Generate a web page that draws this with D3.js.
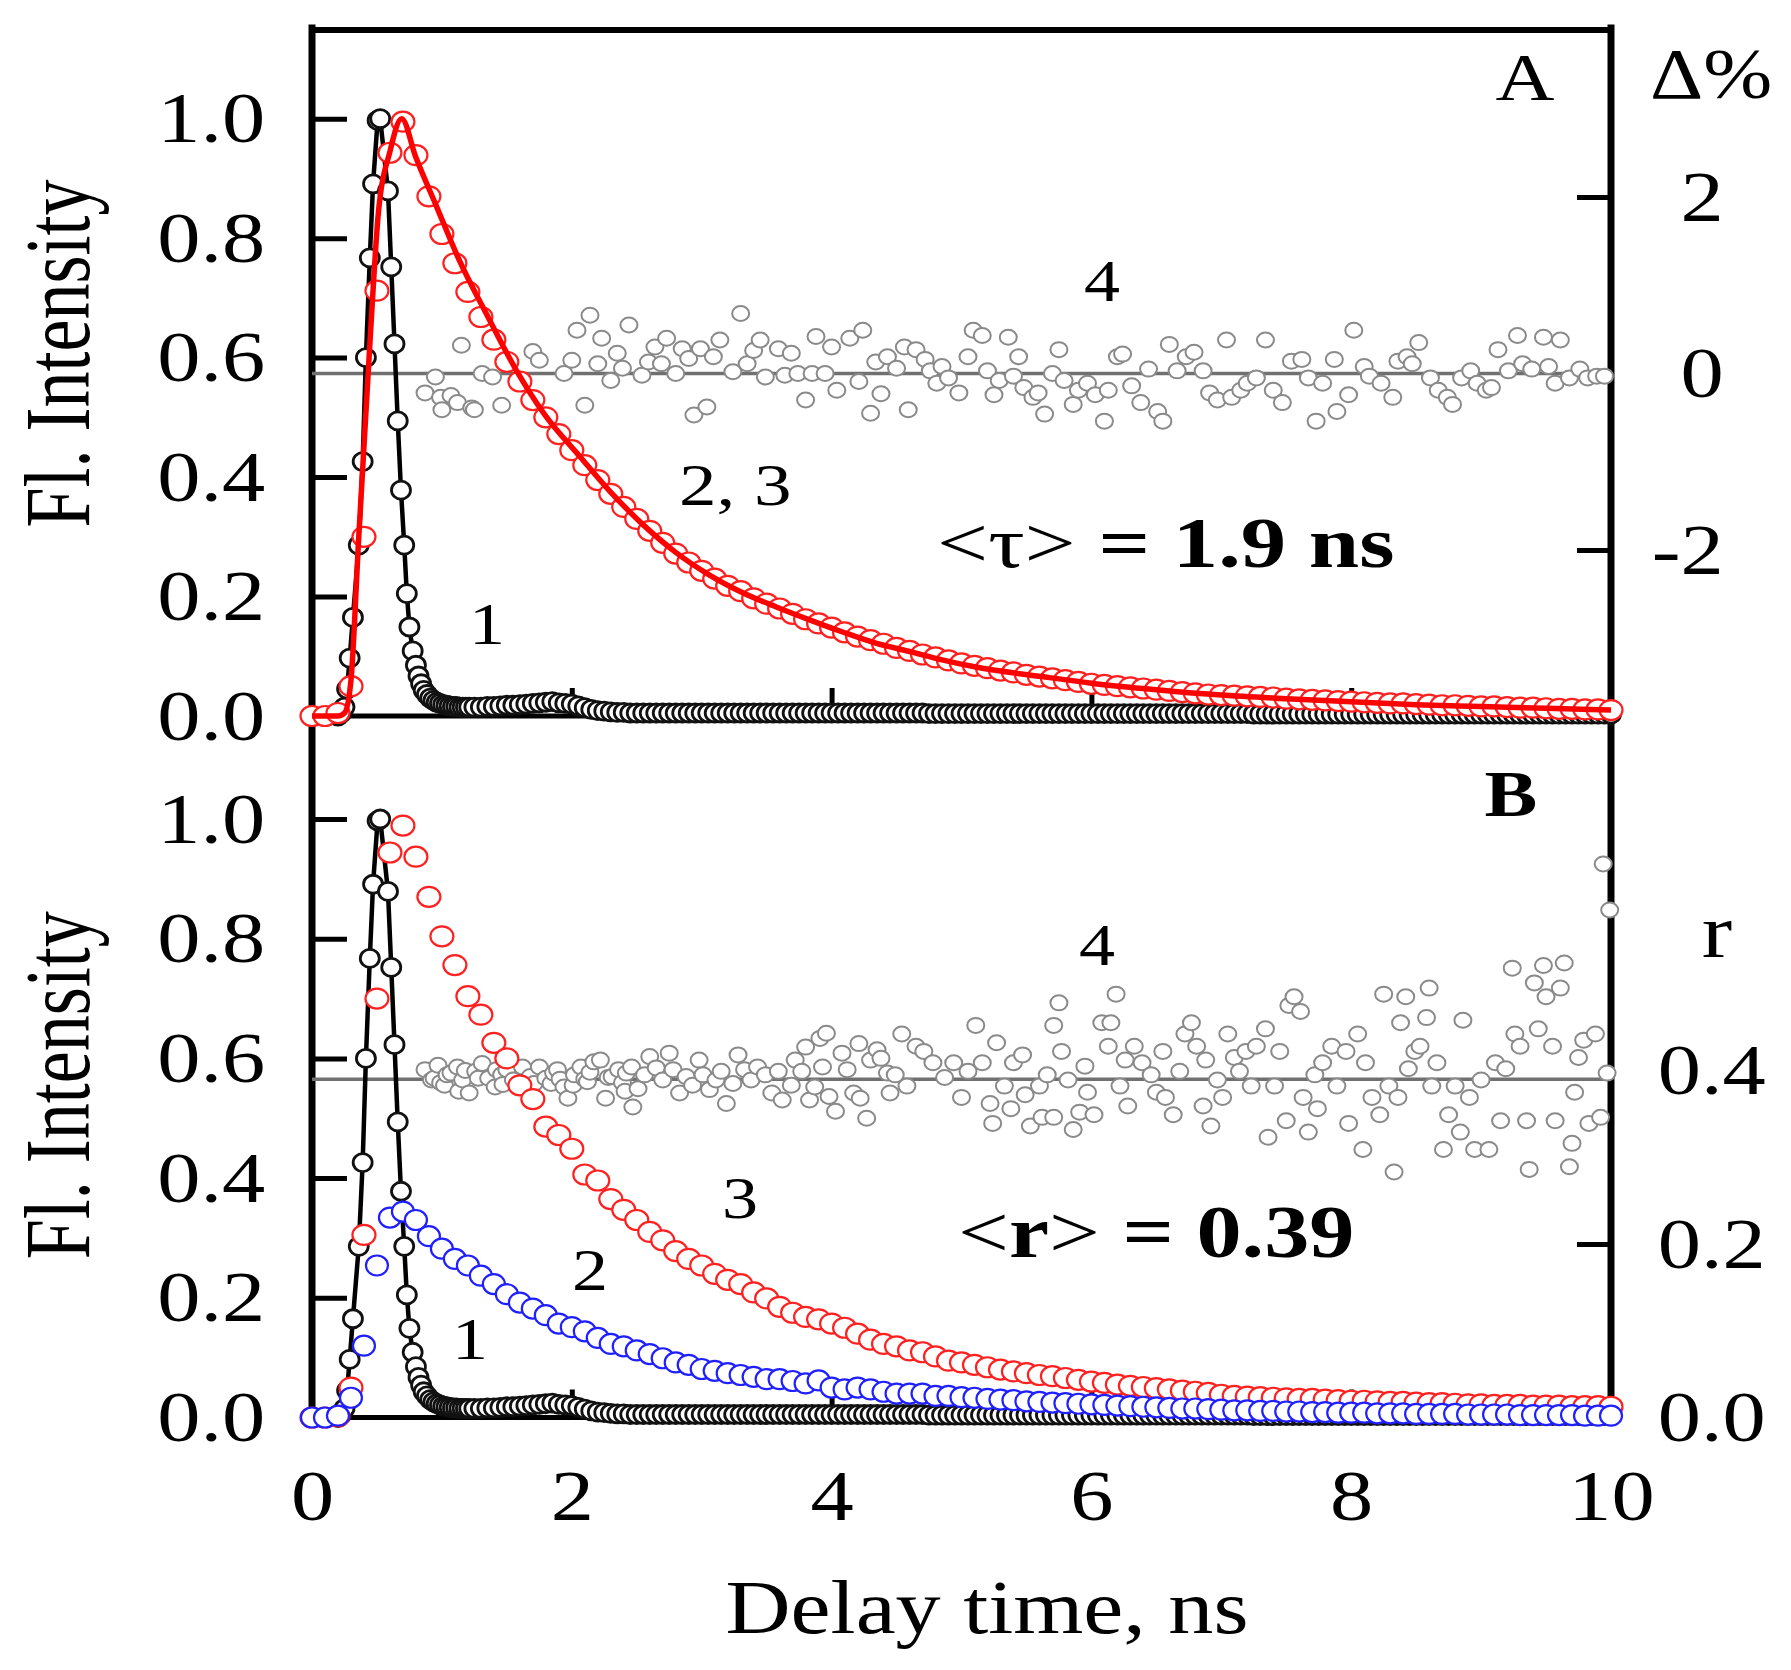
<!DOCTYPE html>
<meta charset="utf-8" />
<script src="https://d3js.org/d3.v7.min.js"></script>
<style>
  body { margin: 0; background: #fff; }
  text { font-family: "Liberation Serif", "Times New Roman", serif; fill: #000; }
</style>
<div id="chart"></div>
<script>
  // tick labels
  const leftTicks = [0, 0.2, 0.4, 0.6, 0.8, 1.0];
  const timeTicks = [0, 2, 4, 6, 8, 10];
  const deltaTicks = [-2, 0, 2];
  const rTicks = [0, 0.2, 0.4];

  // red / blue decays are sampled every 0.1 ns from 0 to 10 ns
  const decayTime = d3.range(101).map(i => i / 10);

  // panel A: curve 2 (data)
  const decayA = [
    0.000, 0.000, 0.005, 0.050, 0.300, 0.712, 0.943, 0.995, 0.939, 0.870,
    0.807, 0.758, 0.710, 0.668, 0.630, 0.593, 0.560, 0.529, 0.500, 0.472,
    0.445, 0.420, 0.395, 0.372, 0.350, 0.330, 0.310, 0.290, 0.272, 0.257,
    0.243, 0.230, 0.218, 0.209, 0.197, 0.188, 0.180, 0.171, 0.162, 0.155,
    0.148, 0.140, 0.133, 0.127, 0.121, 0.114, 0.109, 0.103, 0.098, 0.093,
    0.088, 0.084, 0.080, 0.076, 0.073, 0.069, 0.066, 0.063, 0.060, 0.057,
    0.054, 0.052, 0.050, 0.048, 0.046, 0.044, 0.042, 0.040, 0.038, 0.036,
    0.035, 0.034, 0.033, 0.032, 0.031, 0.029, 0.028, 0.027, 0.026, 0.025,
    0.024, 0.023, 0.022, 0.021, 0.021, 0.020, 0.019, 0.018, 0.018, 0.017,
    0.016, 0.016, 0.015, 0.014, 0.014, 0.013, 0.012, 0.012, 0.011, 0.011,
    0.010
  ];

  // panel A: curve 3 (fit)
  const fitTime = [0, 0.2, 0.25, 0.3, 0.36, 0.45, 0.51, 0.6, 0.69, 0.8, 0.955, 1.13, 1.35, 1.57, 1.79,
    2.06, 2.29, 2.55, 2.8, 3.06, 3.32, 3.57, 3.83, 4.08, 4.34, 4.6, 4.85, 5.11, 5.62,
    6.0, 6.5, 7.0, 7.5, 8.0, 8.5, 9.0, 9.5, 10.0];
  const fitValue = [0, 0, 0.005, 0.06, 0.30, 0.64, 0.84, 0.945, 1.0, 0.935, 0.855, 0.765, 0.67, 0.58, 0.505,
    0.435, 0.377, 0.320, 0.274, 0.236, 0.206, 0.183, 0.161, 0.141, 0.122, 0.108, 0.094, 0.082, 0.066,
    0.055, 0.044, 0.035, 0.029, 0.024, 0.019, 0.016, 0.013, 0.010];

  // panel B: curve 3 (parallel, red) and curve 2 (perpendicular, blue)
  const decayPar = [
    0.000, 0.000, 0.002, 0.050, 0.305, 0.700, 0.944, 0.989, 0.937, 0.870,
    0.804, 0.756, 0.704, 0.673, 0.626, 0.600, 0.555, 0.532, 0.486, 0.472,
    0.449, 0.406, 0.396, 0.365, 0.347, 0.330, 0.310, 0.296, 0.278, 0.265,
    0.254, 0.240, 0.230, 0.223, 0.209, 0.199, 0.185, 0.175, 0.168, 0.164,
    0.157, 0.150, 0.140, 0.130, 0.123, 0.119, 0.112, 0.109, 0.102, 0.095,
    0.092, 0.088, 0.084, 0.080, 0.077, 0.074, 0.071, 0.069, 0.066, 0.063,
    0.060, 0.058, 0.055, 0.053, 0.051, 0.049, 0.047, 0.045, 0.043, 0.041,
    0.038, 0.036, 0.035, 0.034, 0.033, 0.032, 0.031, 0.031, 0.030, 0.029,
    0.028, 0.028, 0.027, 0.026, 0.026, 0.025, 0.024, 0.024, 0.023, 0.022,
    0.022, 0.021, 0.021, 0.021, 0.020, 0.020, 0.020, 0.019, 0.019, 0.019,
    0.018
  ];
  const decayPerp = [
    0.000, 0.000, 0.003, 0.033, 0.120, 0.254, 0.334, 0.344, 0.330, 0.303,
    0.282, 0.265, 0.254, 0.237, 0.223, 0.206, 0.192, 0.182, 0.171, 0.157,
    0.151, 0.144, 0.133, 0.123, 0.119, 0.112, 0.106, 0.099, 0.092, 0.088,
    0.081, 0.078, 0.074, 0.071, 0.068, 0.064, 0.064, 0.061, 0.057, 0.062,
    0.050, 0.047, 0.050, 0.047, 0.043, 0.040, 0.040, 0.040, 0.036, 0.036,
    0.034, 0.033, 0.031, 0.030, 0.029, 0.027, 0.026, 0.025, 0.024, 0.023,
    0.022, 0.021, 0.020, 0.019, 0.018, 0.017, 0.016, 0.015, 0.015, 0.014,
    0.013, 0.012, 0.012, 0.011, 0.011, 0.010, 0.010, 0.009, 0.009, 0.008,
    0.008, 0.008, 0.007, 0.007, 0.007, 0.006, 0.006, 0.006, 0.006, 0.005,
    0.005, 0.005, 0.005, 0.004, 0.004, 0.004, 0.004, 0.004, 0.003, 0.003,
    0.003
  ];

  // curve 1: instrument response, fine channels around the peak
  const irfTime = [0.20, 0.225, 0.25, 0.27, 0.29, 0.315, 0.36, 0.39, 0.415, 0.445,
    0.47, 0.505, 0.525, 0.585, 0.61, 0.635, 0.66, 0.685, 0.71, 0.73,
    0.75, 0.775, 0.80, 0.82, 0.84, 0.86, 0.885, 0.91, 0.935, 0.96,
    0.985, 1.01, 1.035, 1.06, 1.085, 1.11, 1.135, 1.16, 1.185, 1.21];
  const irfValue = [0.000, 0.005, 0.015, 0.045, 0.097, 0.165, 0.286, 0.426, 0.600, 0.767,
    0.891, 0.997, 1.000, 0.879, 0.752, 0.623, 0.494, 0.378, 0.286, 0.205,
    0.149, 0.109, 0.085, 0.067, 0.054, 0.043, 0.036, 0.030, 0.026, 0.023,
    0.021, 0.019, 0.018, 0.017, 0.016, 0.016, 0.015, 0.015, 0.015, 0.015];
  // its tail, every 0.05 ns from 1.25 to 10 ns (176 channels)
  const irfTailTime = d3.range(176).map(i => 1.25 + i * 0.05);
  const irfTailValue = [
    0.015, 0.015, 0.016, 0.016, 0.017, 0.018, 0.018, 0.019, 0.020, 0.021,
    0.022, 0.023, 0.024, 0.022, 0.021, 0.020, 0.017, 0.014, 0.011, 0.009,
    0.008, 0.007, 0.006, 0.006, 0.005, 0.005, 0.005, 0.005, 0.005, 0.005,
    0.005, 0.005, 0.005, 0.005, 0.005, 0.005, 0.005, 0.005, 0.005, 0.005,
    0.005, 0.005, 0.005, 0.005, 0.005, 0.005, 0.005, 0.005, 0.005, 0.005,
    0.005, 0.005, 0.005, 0.005, 0.005, 0.005, 0.005, 0.005, 0.005, 0.005,
    0.005, 0.005, 0.005, 0.005, 0.005, 0.005, 0.005, 0.005, 0.005, 0.005,
    0.004, 0.004, 0.004, 0.004, 0.004, 0.004, 0.004, 0.004, 0.004, 0.004,
    0.004, 0.004, 0.004, 0.004, 0.004, 0.004, 0.004, 0.004, 0.004, 0.004,
    0.004, 0.004, 0.004, 0.004, 0.004, 0.004, 0.004, 0.004, 0.004, 0.004,
    0.004, 0.004, 0.004, 0.004, 0.004, 0.004, 0.004, 0.004, 0.004, 0.004,
    0.004, 0.004, 0.004, 0.004, 0.004, 0.004, 0.004, 0.004, 0.004, 0.004,
    0.003, 0.003, 0.003, 0.003, 0.003, 0.003, 0.003, 0.003, 0.003, 0.003,
    0.003, 0.003, 0.003, 0.003, 0.003, 0.003, 0.003, 0.003, 0.003, 0.003,
    0.003, 0.003, 0.003, 0.003, 0.003, 0.003, 0.003, 0.003, 0.003, 0.003,
    0.003, 0.003, 0.003, 0.003, 0.003, 0.003, 0.003, 0.003, 0.003, 0.003,
    0.003, 0.003, 0.003, 0.003, 0.003, 0.003, 0.003, 0.003, 0.003, 0.003,
    0.003, 0.003, 0.003, 0.003, 0.003, 0.003
  ];

  // curve 4 in A: residuals, delta %
  const residTime = [
    0.87, 0.95, 0.99, 1.00, 1.07, 1.12, 1.15, 1.23, 1.25, 1.31,
    1.39, 1.46, 1.70, 1.75, 1.94, 2.00, 2.04, 2.10, 2.14, 2.20,
    2.23, 2.30, 2.35, 2.39, 2.44, 2.54, 2.59, 2.64, 2.69, 2.73,
    2.80, 2.85, 2.90, 2.94, 2.99, 3.04, 3.09, 3.14, 3.24, 3.30,
    3.35, 3.40, 3.45, 3.49, 3.59, 3.64, 3.69, 3.74, 3.80, 3.85,
    3.88, 3.95, 4.00, 4.04, 4.14, 4.21, 4.24, 4.30, 4.34, 4.38,
    4.43, 4.50, 4.56, 4.59, 4.65, 4.72, 4.76, 4.81, 4.85, 4.90,
    4.98, 5.05, 5.09, 5.16, 5.20, 5.25, 5.29, 5.36, 5.40, 5.44,
    5.48, 5.55, 5.59, 5.64, 5.70, 5.75, 5.79, 5.86, 5.90, 5.97,
    6.03, 6.10, 6.13, 6.20, 6.24, 6.31, 6.38, 6.44, 6.51, 6.55,
    6.60, 6.66, 6.73, 6.79, 6.86, 6.91, 6.97, 7.04, 7.08, 7.15,
    7.20, 7.27, 7.34, 7.40, 7.47, 7.54, 7.62, 7.67, 7.73, 7.78,
    7.87, 7.89, 7.98, 8.02, 8.10, 8.14, 8.23, 8.32, 8.36, 8.43,
    8.47, 8.52, 8.61, 8.67, 8.74, 8.78, 8.85, 8.92, 8.97, 9.04,
    9.08, 9.13, 9.21, 9.28, 9.32, 9.39, 9.48, 9.52, 9.57, 9.61,
    9.68, 9.76, 9.82, 9.89, 9.95
  ];
  const residValue = [
    -0.22, -0.04, -0.27, -0.41, -0.25, -0.33, 0.32, -0.39, -0.41, 0.00,
    -0.04, -0.36, 0.25, 0.15, 0.00, 0.15, 0.49, -0.36, 0.66, 0.11,
    0.40, -0.08, 0.23, 0.06, 0.55, -0.02, 0.13, 0.30, 0.11, 0.40,
    0.00, 0.28, 0.17, -0.47, 0.28, -0.38, 0.19, 0.38, 0.02, 0.68,
    0.11, 0.26, 0.38, -0.04, 0.28, -0.02, 0.23, 0.00, -0.30, 0.00,
    0.42, 0.00, 0.30, -0.19, 0.40, -0.09, 0.49, -0.45, 0.13, -0.23,
    0.19, 0.06, 0.30, -0.41, 0.27, 0.16, 0.03, -0.11, 0.08, -0.05,
    -0.22, 0.19, 0.49, 0.43, 0.03, -0.24, -0.08, 0.41, -0.03, 0.19,
    -0.16, -0.27, -0.22, -0.46, 0.00, 0.27, -0.08, -0.35, -0.19, -0.11,
    -0.24, -0.54, -0.19, 0.19, 0.22, -0.14, -0.33, 0.05, -0.43, -0.54,
    0.33, 0.03, 0.19, 0.24, 0.03, -0.22, -0.30, 0.38, -0.27, -0.19,
    -0.11, -0.05, 0.38, -0.19, -0.33, 0.14, 0.16, -0.05, -0.54, -0.11,
    0.16, -0.43, -0.24, 0.49, 0.08, -0.03, -0.11, -0.27, 0.14, 0.19,
    0.11, 0.35, -0.05, -0.19, -0.27, -0.35, -0.05, 0.03, -0.11, -0.19,
    -0.16, 0.27, 0.03, 0.43, 0.11, 0.05, 0.41, 0.08, -0.11, 0.38,
    -0.05, 0.05, -0.05, -0.03, -0.03
  ];

  // curve 4 in B: anisotropy r
  const anisoTime = [
    0.87, 0.92, 0.94, 0.97, 0.99, 1.02, 1.04, 1.07, 1.12, 1.13,
    1.16, 1.18, 1.21, 1.26, 1.28, 1.31, 1.36, 1.41, 1.42, 1.46,
    1.47, 1.50, 1.55, 1.62, 1.68, 1.71, 1.75, 1.80, 1.84, 1.86,
    1.89, 1.91, 1.94, 1.97, 2.01, 2.02, 2.07, 2.10, 2.12, 2.14,
    2.17, 2.22, 2.26, 2.28, 2.31, 2.36, 2.39, 2.41, 2.42, 2.46,
    2.47, 2.51, 2.56, 2.60, 2.65, 2.70, 2.75, 2.78, 2.83, 2.88,
    2.93, 2.98, 3.01, 3.06, 3.11, 3.15, 3.19, 3.24, 3.28, 3.33,
    3.38, 3.43, 3.49, 3.54, 3.59, 3.62, 3.69, 3.72, 3.77, 3.80,
    3.83, 3.87, 3.91, 3.93, 3.96, 3.98, 4.03, 4.08, 4.12, 4.17,
    4.21, 4.22, 4.27, 4.30, 4.35, 4.38, 4.43, 4.45, 4.49, 4.54,
    4.58, 4.65, 4.71, 4.78, 4.87, 4.94, 5.00, 5.05, 5.11, 5.16,
    5.22, 5.24, 5.27, 5.33, 5.38, 5.40, 5.47, 5.49, 5.53, 5.60,
    5.62, 5.66, 5.71, 5.71, 5.75, 5.77, 5.82, 5.86, 5.91, 5.95,
    5.97, 6.02, 6.08, 6.13, 6.15, 6.19, 6.22, 6.26, 6.28, 6.33,
    6.39, 6.46, 6.50, 6.55, 6.57, 6.63, 6.68, 6.72, 6.77, 6.81,
    6.86, 6.88, 6.92, 6.97, 7.01, 7.05, 7.10, 7.14, 7.19, 7.23,
    7.27, 7.34, 7.36, 7.41, 7.45, 7.50, 7.52, 7.56, 7.61, 7.63,
    7.67, 7.72, 7.74, 7.78, 7.85, 7.89, 7.96, 7.98, 8.05, 8.09,
    8.11, 8.16, 8.22, 8.25, 8.29, 8.33, 8.36, 8.38, 8.42, 8.44,
    8.49, 8.53, 8.58, 8.60, 8.62, 8.66, 8.71, 8.75, 8.80, 8.84,
    8.86, 8.91, 8.95, 9.00, 9.06, 9.11, 9.15, 9.19, 9.24, 9.26,
    9.30, 9.35, 9.37, 9.41, 9.44, 9.48, 9.50, 9.55, 9.57, 9.61,
    9.64, 9.68, 9.70, 9.72, 9.75, 9.79, 9.83, 9.88, 9.92, 9.94,
    9.97, 9.99
  ];
  const anisoValue = [
    0.401, 0.389, 0.391, 0.406, 0.386, 0.383, 0.395, 0.397, 0.404, 0.376,
    0.389, 0.400, 0.374, 0.399, 0.391, 0.408, 0.391, 0.381, 0.401, 0.395,
    0.384, 0.401, 0.389, 0.404, 0.393, 0.385, 0.404, 0.391, 0.385, 0.397,
    0.401, 0.390, 0.381, 0.368, 0.383, 0.395, 0.404, 0.390, 0.387, 0.398,
    0.410, 0.412, 0.368, 0.392, 0.393, 0.401, 0.386, 0.376, 0.397, 0.404,
    0.358, 0.379, 0.395, 0.416, 0.403, 0.389, 0.420, 0.401, 0.374, 0.393,
    0.383, 0.412, 0.395, 0.378, 0.389, 0.399, 0.362, 0.385, 0.418, 0.401,
    0.389, 0.404, 0.395, 0.374, 0.399, 0.366, 0.383, 0.412, 0.399, 0.427,
    0.366, 0.381, 0.437, 0.404, 0.443, 0.370, 0.353, 0.420, 0.401, 0.374,
    0.431, 0.368, 0.345, 0.412, 0.424, 0.414, 0.397, 0.374, 0.395, 0.442,
    0.382, 0.428, 0.422, 0.409, 0.392, 0.409, 0.369, 0.399, 0.452, 0.409,
    0.362, 0.339, 0.432, 0.382, 0.356, 0.409, 0.418, 0.372, 0.336, 0.382,
    0.346, 0.395, 0.346, 0.452, 0.478, 0.422, 0.389, 0.332, 0.352, 0.405,
    0.375, 0.349, 0.455, 0.428, 0.455, 0.488, 0.382, 0.412, 0.359, 0.428,
    0.409, 0.395, 0.375, 0.422, 0.369, 0.349, 0.399, 0.442, 0.455, 0.428,
    0.359, 0.412, 0.336, 0.389, 0.369, 0.442, 0.415, 0.399, 0.422, 0.382,
    0.428, 0.448, 0.323, 0.382, 0.422, 0.342, 0.475, 0.485, 0.468, 0.369,
    0.329, 0.395, 0.356, 0.409, 0.428, 0.382, 0.422, 0.339, 0.442, 0.309,
    0.409, 0.369, 0.349, 0.488, 0.382, 0.283, 0.369, 0.455, 0.485, 0.402,
    0.422, 0.428, 0.461, 0.495, 0.382, 0.409, 0.309, 0.349, 0.382, 0.329,
    0.458, 0.369, 0.309, 0.389, 0.309, 0.409, 0.342, 0.402, 0.518, 0.442,
    0.428, 0.342, 0.286, 0.501, 0.448, 0.521, 0.485, 0.428, 0.342, 0.495,
    0.524, 0.289, 0.316, 0.375, 0.415, 0.435, 0.339, 0.442, 0.346, 0.638,
    0.397, 0.585
  ];
  const meanAniso = 0.39;

  const W = 1791, H = 1670;
  const SX = 1.2; // the figure is stretched horizontally

  const svg = d3.select("#chart").append("svg")
    .attr("width", W).attr("height", H)
    .style("background", "#fff");

  // scales
  const x = d3.scaleLinear().domain([0, 10]).range([312, 1611]);
  const yA = d3.scaleLinear().domain([0, 1]).range([716, 118.7]);
  const yB = d3.scaleLinear().domain([0, 1]).range([1417.5, 819]);
  const dA = d3.scaleLinear().domain([-2, 2]).range([550, 197]);
  const rB = d3.scaleLinear().domain([0, 0.2]).range([1417.5, 1244]);
  const frameTop = 30;

  // frame
  const frame = svg.append("g").attr("stroke", "#000").attr("stroke-linecap", "square");
  frame.append("line").attr("x1", x(0)).attr("x2", x(0)).attr("y1", frameTop - 2).attr("y2", yB(0) + 3).attr("stroke-width", 7);
  frame.append("line").attr("x1", x(10)).attr("x2", x(10)).attr("y1", frameTop - 2).attr("y2", yB(0) + 3).attr("stroke-width", 7);
  frame.append("line").attr("x1", x(0)).attr("x2", x(10)).attr("y1", frameTop).attr("y2", frameTop).attr("stroke-width", 6);
  frame.append("line").attr("x1", x(0)).attr("x2", x(10)).attr("y1", yA(0)).attr("y2", yA(0)).attr("stroke-width", 5);
  frame.append("line").attr("x1", x(0)).attr("x2", x(10)).attr("y1", yB(0)).attr("y2", yB(0)).attr("stroke-width", 5);

  function styleAxis(g, fontSize) {
    g.select(".domain").remove();
    g.attr("font-family", null).attr("font-size", fontSize);
    g.selectAll(".tick line").attr("stroke", "#000").attr("stroke-width", 5);
    g.selectAll(".tick text").attr("fill", "#000").attr("transform", `scale(${SX},1)`);
  }

  // left axes
  [yA, yB].forEach(ys => {
    svg.append("g")
      .attr("transform", `translate(${x(0)},0)`)
      .call(d3.axisLeft(ys).tickValues(leftTicks).tickSizeInner(-35).tickSizeOuter(0)
        .tickPadding(39).tickFormat(d3.format(".1f")))
      .call(g => styleAxis(g, 72));
  });

  // right axis A (delta %)
  svg.append("g")
    .attr("transform", `translate(${x(10)},0)`)
    .call(d3.axisRight(dA).tickValues(deltaTicks).tickSizeInner(-34).tickSizeOuter(0)
      .tickFormat(d => String(d)))
    .call(g => styleAxis(g, 72))
    .call(g => g.selectAll(".tick text").attr("text-anchor", "end").attr("x", 94))
    .call(g => g.selectAll(".tick").filter(d => d === 0).select("line").remove());

  // right axis B (r)
  svg.append("g")
    .attr("transform", `translate(${x(10)},0)`)
    .call(d3.axisRight(rB).tickValues(rTicks).tickSizeInner(-34).tickSizeOuter(0)
      .tickPadding(39).tickFormat(d3.format(".1f")))
    .call(g => styleAxis(g, 72))
    .call(g => g.selectAll(".tick").filter(d => d !== 0.2).select("line").remove());

  // bottom ticks for A
  svg.append("g")
    .attr("transform", `translate(0,${yA(0)})`)
    .call(d3.axisBottom(x).tickValues([2, 4, 6, 8]).tickSizeInner(-28).tickSizeOuter(0).tickFormat(""))
    .call(g => styleAxis(g, 72));

  // bottom axis for B with labels
  svg.append("g")
    .attr("transform", `translate(0,${yB(0)})`)
    .call(d3.axisBottom(x).tickValues(timeTicks).tickSizeInner(-28).tickSizeOuter(0).tickPadding(51))
    .call(g => styleAxis(g, 72))
    .call(g => g.selectAll(".tick").filter(d => d === 0 || d === 10).select("line").remove());

  // helpers
  function zipXY(t, v) { return t.map((d, i) => [d, v[i]]); }
  function markers(g, data, ys, rx, ry, stroke, sw) {
    g.append("g").selectAll("ellipse").data(data).join("ellipse")
      .attr("cx", d => x(d[0])).attr("cy", d => ys(d[1]))
      .attr("rx", rx).attr("ry", ry)
      .attr("fill", "#fff").attr("stroke", stroke).attr("stroke-width", sw);
  }

  const irfData = zipXY(irfTime.concat(irfTailTime), irfValue.concat(irfTailValue));

  // ---------- panel A ----------
  const pA = svg.append("g");
  pA.append("line")
    .attr("x1", x(0)).attr("x2", x(10)).attr("y1", dA(0)).attr("y2", dA(0))
    .attr("stroke", "#707070").attr("stroke-width", 3.5);
  markers(pA, zipXY(residTime, residValue), dA, 8.5, 7.5, "#8a8a8a", 2);

  pA.append("path").datum(irfData)
    .attr("d", d3.line().x(d => x(d[0])).y(d => yA(d[1])))
    .attr("fill", "none").attr("stroke", "#000").attr("stroke-width", 4.5);
  markers(pA, irfData, yA, 9.5, 9, "#111", 2.8);

  markers(pA, zipXY(decayTime, decayA), yA, 11.5, 10, "#ff2020", 2.2);
  pA.append("path").datum(zipXY(fitTime, fitValue))
    .attr("d", d3.line().curve(d3.curveMonotoneX).x(d => x(d[0])).y(d => yA(d[1])))
    .attr("fill", "none").attr("stroke", "#ff0000").attr("stroke-width", 5.5);

  // ---------- panel B ----------
  const pB = svg.append("g");
  pB.append("line")
    .attr("x1", x(0)).attr("x2", x(10)).attr("y1", rB(meanAniso)).attr("y2", rB(meanAniso))
    .attr("stroke", "#707070").attr("stroke-width", 3.5);
  markers(pB, zipXY(anisoTime, anisoValue), rB, 8.5, 7.5, "#8a8a8a", 2);

  pB.append("path").datum(irfData)
    .attr("d", d3.line().x(d => x(d[0])).y(d => yB(d[1])))
    .attr("fill", "none").attr("stroke", "#000").attr("stroke-width", 4.5);
  markers(pB, irfData, yB, 9.5, 9, "#111", 2.8);

  markers(pB, zipXY(decayTime, decayPar), yB, 11.5, 10, "#ff2020", 2.2);
  markers(pB, zipXY(decayTime, decayPerp), yB, 11, 10, "#2020ff", 2.2);

  // ---------- text ----------
  function label(px, py, size, sx, anchor, parts) {
    const t = svg.append("text")
      .attr("transform", `translate(${px},${py}) scale(${sx},1)`)
      .attr("text-anchor", anchor).attr("font-size", size)
      .attr("xml:space", "preserve");
    parts.forEach(p => {
      t.append("tspan").attr("font-weight", p[1] ? "bold" : "normal").text(p[0]);
    });
    return t;
  }

  // y titles
  svg.append("text").attr("transform", `translate(89,${yA(0.607)}) scale(1.3,1) rotate(-90)`)
    .attr("text-anchor", "middle").attr("font-size", 72).text("Fl. Intensity");
  svg.append("text").attr("transform", `translate(89,${yB(0.555)}) scale(1.3,1) rotate(-90)`)
    .attr("text-anchor", "middle").attr("font-size", 72).text("Fl. Intensity");

  // x title
  label(987, 1633, 77, 1.17, "middle", [["Delay time, ns", false]]);

  // panel A annotations
  label(1525, 99.5, 68, SX, "middle", [["A", false]]);
  label(1650, 98, 72, 1.15, "start", [["Δ%", false]]);
  label(1102, 301, 60, SX, "middle", [["4", false]]);
  label(679, 505, 60, 1.25, "start", [["2, 3", false]]);
  label(487, 644, 60, SX, "middle", [["1", false]]);
  label(937, 567, 72, 1.26, "start", [["<τ>", false], [" = 1.9 ns", true]]);

  // panel B annotations
  label(1511, 816, 66, SX, "middle", [["B", true]]);
  label(1717, 957, 76, SX, "middle", [["r", false]]);
  label(1097, 965, 60, SX, "middle", [["4", false]]);
  label(740, 1218, 60, SX, "middle", [["3", false]]);
  label(590, 1290, 60, SX, "middle", [["2", false]]);
  label(470, 1359, 60, SX, "middle", [["1", false]]);
  label(958, 1257, 74, 1.22, "start", [["<", false], ["r", true], [">", false], [" = 0.39", true]]);
</script>
